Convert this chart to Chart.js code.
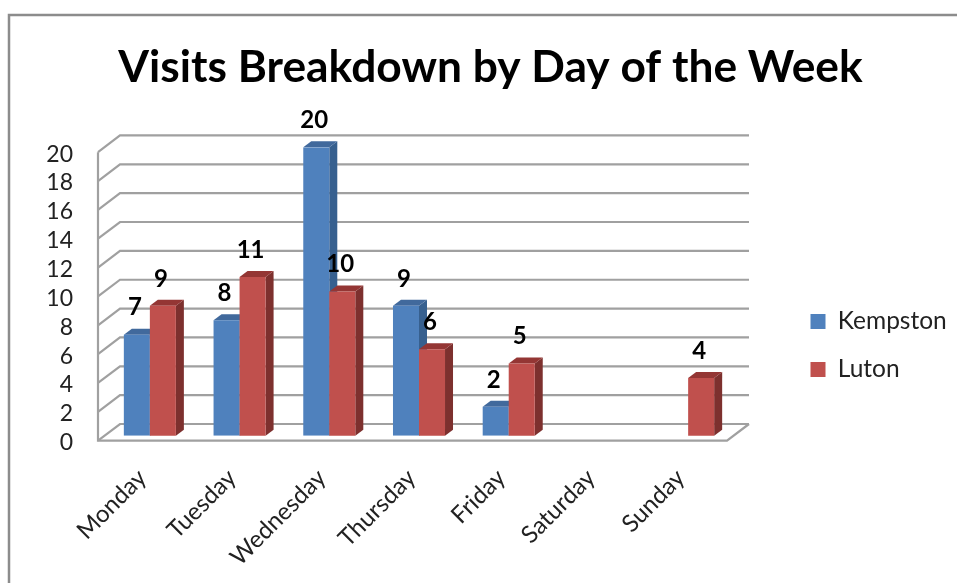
<!DOCTYPE html>
<html><head><meta charset="utf-8">
<style>html,body{margin:0;padding:0;background:#fff}canvas{display:block}</style>
<script src="https://cdn.jsdelivr.net/npm/chart.js@4"></script></head>
<body><canvas id="c" width="957" height="583"></canvas>
<script>
const categories = ["Monday","Tuesday","Wednesday","Thursday","Friday","Saturday","Sunday"];
const kempston = [7,8,20,9,2,null,null];
const luton = [9,11,10,6,5,null,4];
const titleText = "Visits Breakdown by Day of the Week";
const FONT = "Lato, Carlito, sans-serif";
const depth = {barX:8, barY:6, wallX:22, frontY:5, backY:11.7, frontL:7, frontR:6};
const shades = {
  "#4F81BD": {side:"#37608F", top:"#41699C"},
  "#C0504D": {side:"#7D302E", top:"#943634"}
};
const pad = {left:0,right:0,top:0,bottom:0};
function drawFaces(chart,index){
  const c=chart.ctx,meta=chart.getDatasetMeta(index);
  const ds=chart.data.datasets[index];
  const s=shades[ds.backgroundColor];
  meta.data.forEach((b,i)=>{
    if(ds.data[i]===null)return;
    const L=b.x-b.width/2,R=b.x+b.width/2,T=b.y,B=b.base;
    c.fillStyle=s.side;
    c.beginPath();c.moveTo(R,T);c.lineTo(R+depth.barX,T-depth.barY);c.lineTo(R+depth.barX,B-depth.barY);c.lineTo(R,B);c.closePath();c.fill();
    c.fillStyle=s.top;
    c.beginPath();c.moveTo(L,T);c.lineTo(L+depth.barX,T-depth.barY);c.lineTo(R+depth.barX,T-depth.barY);c.lineTo(R,T);c.closePath();c.fill();
  });
}
const threeD = {
  id:"threeD",
  beforeDraw(chart){
    const c=chart.ctx;
    c.save();c.fillStyle="#fff";c.fillRect(0,0,chart.width,chart.height);
    c.strokeStyle="#8C8C8C";c.lineWidth=2.5;
    c.beginPath();c.moveTo(9,chart.height);c.lineTo(9,15);c.lineTo(chart.width,15);c.stroke();
    c.restore();
  },
  beforeDatasetsDraw(chart){
    const c=chart.ctx,a=chart.chartArea,y=chart.scales.y;
    const fl=a.left-depth.frontL, fr=a.right-depth.frontR;
    const bl=fl+depth.wallX, br=fr+depth.wallX;
    c.save();c.strokeStyle="#A0A0A0";c.lineWidth=2.2;
    y.ticks.forEach(t=>{
      const p=y.getPixelForValue(t.value);
      c.beginPath();c.moveTo(fl,p+depth.frontY);c.lineTo(bl,p-depth.backY);c.lineTo(br,p-depth.backY);c.stroke();
    });
    const p0=y.getPixelForValue(0),pm=y.getPixelForValue(y.max);
    c.beginPath();c.moveTo(fl,pm+depth.frontY);c.lineTo(fl,p0+depth.frontY);c.lineTo(fr,p0+depth.frontY);c.lineTo(br,p0-depth.backY);c.stroke();
    c.restore();
  },
  beforeDatasetDraw(chart,args){
    if(args.index===1)return false;
    drawFaces(chart,args.index);
  },
  afterDatasetDraw(chart,args){
    if(args.index!==0)return;
    drawFaces(chart,1);
    chart.getDatasetMeta(1).data.forEach((b,i)=>{ if(luton[i]!==null)b.draw(chart.ctx); });
  },
  afterLayout(chart){
    const l=chart.legend,t=chart.titleBlock;
    l.left=787;l.right=787+l.width;l.top=285.75;l.bottom=285.75+l.height;
    t.left=24;t.right=chart.width;
  },
  afterDatasetsDraw(chart){
    const c=chart.ctx;
    c.save();c.fillStyle="#000";c.font="bold 24px "+FONT;c.textAlign="center";c.textBaseline="middle";
    chart.data.datasets.forEach((d,k)=>{
      chart.getDatasetMeta(k).data.forEach((b,i)=>{
        if(d.data[i]===null)return;
        c.fillText(String(d.data[i]),b.x-2,b.y-27);
      });
    });
    c.restore();
  }
};
const chart=new Chart(document.getElementById("c"),{
  type:"bar",
  data:{labels:categories,datasets:[
    {label:"Kempston",data:kempston,backgroundColor:"#4F81BD",barPercentage:1,categoryPercentage:0.58},
    {label:"Luton",data:luton,backgroundColor:"#C0504D",barPercentage:1,categoryPercentage:0.58}
  ]},
  options:{
    responsive:false,animation:false,
    layout:{padding:pad},
    plugins:{
      title:{display:true,text:titleText,color:"#000",font:{family:FONT,size:44.3,weight:"bold",lineHeight:1.2},padding:{top:41,bottom:53}},
      legend:{position:"right",align:"start",labels:{boxWidth:15,boxHeight:15,padding:23.5,color:"#222",font:{family:FONT,size:24.5}}},
      tooltip:{enabled:false}
    },
    scales:{
      x:{grid:{display:false},border:{display:false},
        afterFit(s){s.height=147.3;},
        ticks:{color:"#222",font:{family:FONT,size:24},minRotation:45,maxRotation:45,padding:20,labelOffset:-7.5,autoSkip:false}},
      y:{min:0,max:20,grid:{display:false},border:{display:false},
        afterFit(s){s.width=105;},
        ticks:{stepSize:2,color:"#222",font:{family:FONT,size:23},padding:32-8,labelOffset:7,autoSkip:false}}
    }
  },
  plugins:[threeD]
});
pad.right=957-733-chart.legend.width;
chart.options.layout.padding=pad;
chart.update();
</script>
</body></html>
